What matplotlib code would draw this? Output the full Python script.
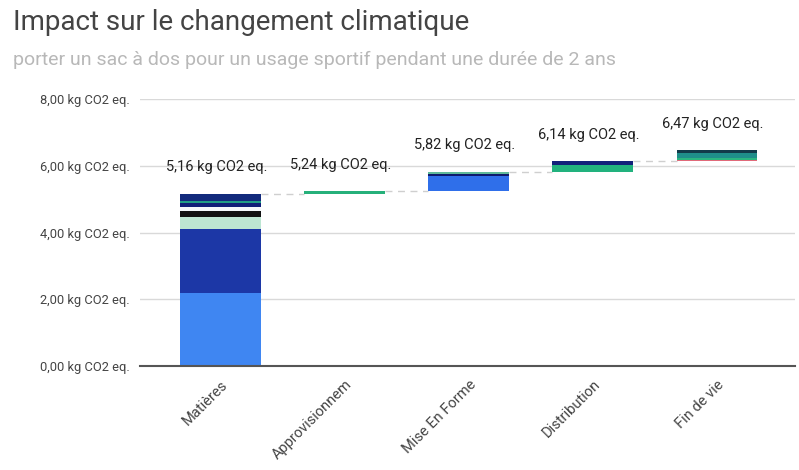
import matplotlib.pyplot as plt
import numpy as np

plt.rcParams['font.family'] = ['Roboto', 'DejaVu Sans']

# stages of the life cycle
categories = ['Matières', 'Approvisionnem', 'Mise En Forme', 'Distribution', 'Fin de vie']
totals = [5.16, 5.24, 5.82, 6.14, 6.47]
total_labels = ['5,16 kg CO2 eq.', '5,24 kg CO2 eq.', '5,82 kg CO2 eq.',
                '6,14 kg CO2 eq.', '6,47 kg CO2 eq.']

# contributions of each stage (bottom to top), kg CO2 eq.
seg_matieres = [2.18, 1.94, 0.36, 0.18, 0.12, 0.12, 0.06, 0.20]
seg_approv = [0.08]
seg_forme = [0.45, 0.07, 0.06]
seg_distrib = [0.20, 0.12]
seg_fin = [0.03, 0.08, 0.15, 0.07]
segments = [seg_matieres, seg_approv, seg_forme, seg_distrib, seg_fin]

col_matieres = ['#3f86f2', '#1c37a6', '#bde6d2', '#111111', '#f4f8fb', '#0f1f78', '#1e9e86', '#122a7c']
col_approv = ['#26b07a']
col_forme = ['#2f6fea', '#0d1a6e', '#5fb99a']
col_distrib = ['#22b27e', '#12207a']
col_fin = ['#e06a7a', '#2bb580', '#1f8e8a', '#123a4a']
colors = [col_matieres, col_approv, col_forme, col_distrib, col_fin]

yticks = [0, 2, 4, 6, 8]
ytick_labels = ['0,00 kg CO2 eq.', '2,00 kg CO2 eq.', '4,00 kg CO2 eq.',
                '6,00 kg CO2 eq.', '8,00 kg CO2 eq.']

fig = plt.figure(figsize=(7.99, 4.70), dpi=100)
ax = fig.add_axes([0.175, 0.221, 0.82, 0.568])

x = np.arange(len(categories))
width = 0.65
start = 0.0
for i in range(len(categories)):
    bottom = start
    for v, c in zip(segments[i], colors[i]):
        ax.bar(x[i], v, width, bottom=bottom, color=c, linewidth=0, zorder=3)
        bottom += v
    ax.text(x[i] - 0.03, totals[i] + 0.8, total_labels[i], ha='center', va='center',
            fontsize=10.5, color='#222222', zorder=4)
    if i < len(categories) - 1:
        ax.plot([x[i] + width / 2, x[i + 1] - width / 2], [totals[i], totals[i]],
                ls=(0, (5, 4)), color='#cfcfcf', lw=1, zorder=2)
    start = totals[i]

ax.set_xlim(-0.65, 4.63)
ax.set_ylim(0, 8)
ax.set_yticks(yticks)
ax.set_yticklabels(ytick_labels, fontsize=9.3, color='#444444')
ax.set_xticks(x)
ax.set_xticklabels(categories, rotation=45, ha='right', rotation_mode='anchor',
                   fontsize=10.5, color='#444444')
ax.tick_params(length=0, axis='both')
ax.tick_params(axis='y', pad=7)
ax.tick_params(axis='x', pad=8)
ax.grid(axis='y', color='#d9d9d9', lw=1, zorder=0)
for s in ['top', 'right', 'left']:
    ax.spines[s].set_visible(False)
ax.spines['bottom'].set_color('#555555')
ax.spines['bottom'].set_linewidth(1.5)
ax.spines['bottom'].set_zorder(5)

fig.text(0.016, 0.953, 'Impact sur le changement climatique', fontsize=20,
         color='#444444', va='center')
fig.text(0.016, 0.872, 'porter un sac à dos pour un usage sportif pendant une durée de 2 ans',
         fontsize=14, color='#b8b8b8', va='center')

plt.savefig('out.png', dpi=100)
